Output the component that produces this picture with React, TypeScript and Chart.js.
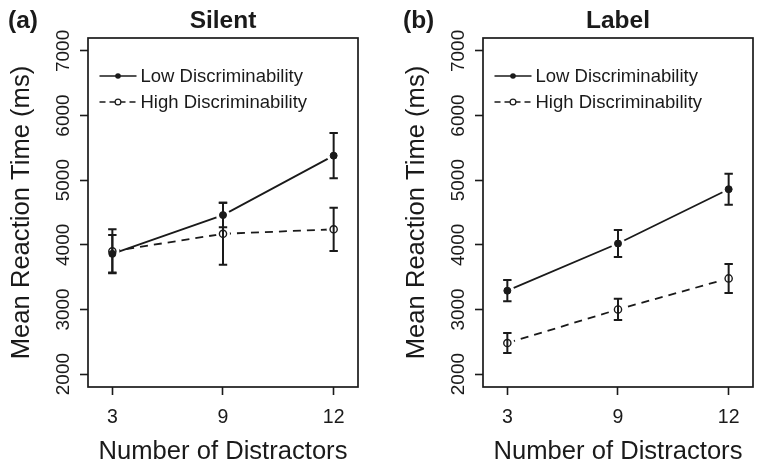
import React, { useEffect, useRef } from "react";
import { Chart, registerables } from "chart.js";

Chart.register(...registerables);

// ---------- data ----------
const distractors = ["3", "9", "12"];
const yTickValues = [2000, 3000, 4000, 5000, 6000, 7000];
const seriesNames = ["Low Discriminability", "High Discriminability"];

const silentLow = [3860, 4460, 5380];
const silentLowErr = [290, 190, 350];
const silentHigh = [3900, 4170, 4240];
const silentHighErr = [340, 480, 335];

const labelLow = [3290, 4020, 4860];
const labelLowErr = [165, 210, 240];
const labelHigh = [2480, 3000, 3480];
const labelHighErr = [155, 165, 225];

const panelTitles = ["Silent", "Label"];
const panelTags = ["(a)", "(b)"];

// ---------- style ----------
const FONT = "'Liberation Sans', Arial, Helvetica, sans-serif";
const INK = "#1a1a1a";
const CANVAS_W = 368;
const CANVAS_H = 469;

type PanelSpec = {
  title: string;
  tag: string;
  low: number[];
  lowErr: number[];
  high: number[];
  highErr: number[];
};

const panels: PanelSpec[] = [
  { title: panelTitles[0], tag: panelTags[0], low: silentLow, lowErr: silentLowErr, high: silentHigh, highErr: silentHighErr },
  { title: panelTitles[1], tag: panelTags[1], low: labelLow, lowErr: labelLowErr, high: labelHigh, highErr: labelHighErr },
];

const decorPlugin = {
  id: "decor",
  beforeDatasetsDraw(chart: any) {
    const { ctx, chartArea: a } = chart;
    ctx.save();
    ctx.strokeStyle = INK;
    ctx.lineWidth = 1.7;
    ctx.strokeRect(a.left, a.top, a.right - a.left, a.bottom - a.top);
    ctx.restore();
  },
  afterDatasetsDraw(chart: any, _args: any, opts: any) {
    const { ctx, chartArea: a } = chart;
    const ys = chart.scales.y;
    ctx.save();
    // gaps around points (R type="b")
    chart.data.datasets.forEach((_ds: any, di: number) => {
      chart.getDatasetMeta(di).data.forEach((pt: any) => {
        ctx.beginPath();
        ctx.arc(pt.x, pt.y, 7, 0, Math.PI * 2);
        ctx.fillStyle = "#ffffff";
        ctx.fill();
      });
    });
    // error bars
    ctx.strokeStyle = INK;
    ctx.lineWidth = 2;
    chart.data.datasets.forEach((ds: any, di: number) => {
      const meta = chart.getDatasetMeta(di);
      meta.data.forEach((pt: any, i: number) => {
        const v = ds.data[i].y;
        const e = ds.errors[i];
        const yt = ys.getPixelForValue(v + e);
        const yb = ys.getPixelForValue(v - e);
        const x = pt.x;
        ctx.beginPath();
        ctx.moveTo(x, yt);
        ctx.lineTo(x, yb);
        ctx.moveTo(x - 4.2, yt);
        ctx.lineTo(x + 4.2, yt);
        ctx.moveTo(x - 4.2, yb);
        ctx.lineTo(x + 4.2, yb);
        ctx.stroke();
      });
    });
    // redraw markers
    chart.data.datasets.forEach((_ds: any, di: number) => {
      chart.getDatasetMeta(di).data.forEach((pt: any) => pt.draw(ctx, a));
    });
    // legend
    const lx0 = a.left + 11.5;
    const lx1 = a.left + 48.5;
    const lmid = (lx0 + lx1) / 2;
    chart.data.datasets.forEach((ds: any, di: number) => {
      const y = a.top + 38 + di * 26;
      ctx.save();
      ctx.strokeStyle = INK;
      ctx.lineWidth = 1.5;
      ctx.setLineDash(di === 0 ? [] : [6, 4]);
      ctx.beginPath();
      ctx.moveTo(lx0, y);
      ctx.lineTo(lx1, y);
      ctx.stroke();
      ctx.setLineDash([]);
      ctx.beginPath();
      ctx.arc(lmid, y, di === 0 ? 2.8 : 2.9, 0, Math.PI * 2);
      if (di === 0) {
        ctx.fillStyle = INK;
        ctx.fill();
      } else {
        ctx.fillStyle = "#ffffff";
        ctx.fill();
        ctx.lineWidth = 1.2;
        ctx.stroke();
      }
      ctx.fillStyle = INK;
      ctx.font = `18.5px ${FONT}`;
      ctx.textAlign = "left";
      ctx.textBaseline = "middle";
      ctx.fillText(ds.label, a.left + 52.5, y + 1);
      ctx.restore();
    });
    // panel tag
    ctx.fillStyle = INK;
    ctx.font = `bold 24.5px ${FONT}`;
    ctx.textAlign = "left";
    ctx.textBaseline = "alphabetic";
    ctx.fillText(opts.tag, 8, 28);
    ctx.restore();
  },
};

function buildConfig(p: PanelSpec): any {
  const toPts = (arr: number[]) => arr.map((y, i) => ({ x: i + 1, y }));
  return {
    type: "line",
    data: {
      datasets: [
        {
          label: seriesNames[0],
          data: toPts(p.low),
          errors: p.lowErr,
          borderColor: INK,
          borderWidth: 1.8,
          pointRadius: 3.5,
          pointBackgroundColor: INK,
          pointBorderColor: INK,
          pointBorderWidth: 1,
          fill: false,
          tension: 0,
        },
        {
          label: seriesNames[1],
          data: toPts(p.high),
          errors: p.highErr,
          borderColor: INK,
          borderWidth: 1.8,
          borderDash: [8, 6],
          pointRadius: 3.6,
          pointBackgroundColor: "rgba(255,255,255,0)",
          pointBorderColor: INK,
          pointBorderWidth: 1.4,
          fill: false,
          tension: 0,
        },
      ],
    },
    options: {
      responsive: false,
      animation: false,
      devicePixelRatio: 1,
      layout: { padding: { left: 0, right: 10, top: 0, bottom: 0 } },
      plugins: {
        legend: { display: false },
        tooltip: { enabled: false },
        title: {
          display: true,
          text: p.title,
          fullSize: false,
          color: INK,
          font: { family: FONT, size: 24.5, weight: "bold", lineHeight: 1.2 },
          padding: { top: 6.5, bottom: 2.1 },
        },
        decor: { tag: p.tag },
      },
      scales: {
        x: {
          type: "linear",
          min: 0.78,
          max: 3.22,
          afterBuildTicks: (scale: any) => {
            scale.ticks = distractors.map((_l, i) => ({ value: i + 1 }));
          },
          afterFit: (scale: any) => {
            scale.height = 82;
          },
          ticks: {
            autoSkip: false,
            maxRotation: 0,
            minRotation: 0,
            padding: 11,
            color: INK,
            font: { family: FONT, size: 19.5 },
            callback: (_v: any, i: number) => distractors[i],
          },
          grid: {
            display: true,
            drawOnChartArea: false,
            drawTicks: true,
            tickLength: 8,
            tickWidth: 1.6,
            tickColor: INK,
          },
          border: { display: false },
          title: {
            display: true,
            text: "Number of Distractors",
            color: INK,
            font: { family: FONT, size: 25.6, lineHeight: 1.2 },
            padding: { top: 0, bottom: 1.6 },
          },
        },
        y: {
          type: "linear",
          min: 1800,
          max: 7200,
          afterBuildTicks: (scale: any) => {
            scale.ticks = yTickValues.map((v) => ({ value: v }));
          },
          afterFit: (scale: any) => {
            scale.width = 88;
          },
          ticks: {
            minRotation: 90,
            maxRotation: 90,
            crossAlign: "center",
            padding: -5,
            color: INK,
            font: { family: FONT, size: 19 },
            callback: (v: any) => String(v),
          },
          grid: {
            display: true,
            drawOnChartArea: false,
            drawTicks: true,
            tickLength: 8,
            tickWidth: 1.6,
            tickColor: INK,
          },
          border: { display: false },
          title: {
            display: true,
            text: "Mean Reaction Time (ms)",
            color: INK,
            font: { family: FONT, size: 25.6, lineHeight: 1.2 },
            padding: { top: 6.8, bottom: 0 },
          },
        },
      },
    },
    plugins: [decorPlugin],
  };
}

function Panel({ spec, left }: { spec: PanelSpec; left: number }) {
  const ref = useRef<HTMLCanvasElement | null>(null);
  useEffect(() => {
    if (!ref.current) return;
    const chart = new Chart(ref.current, buildConfig(spec));
    return () => chart.destroy();
  }, [spec]);
  return (
    <canvas
      ref={ref}
      width={CANVAS_W}
      height={CANVAS_H}
      style={{ position: "absolute", left, top: 0, width: CANVAS_W, height: CANVAS_H, display: "block" }}
    />
  );
}

export default function App() {
  return (
    <div style={{ position: "fixed", left: 0, top: 0, width: 763, height: 469, background: "#ffffff", overflow: "hidden" }}>
      <Panel spec={panels[0]} left={0} />
      <Panel spec={panels[1]} left={395} />
    </div>
  );
}
